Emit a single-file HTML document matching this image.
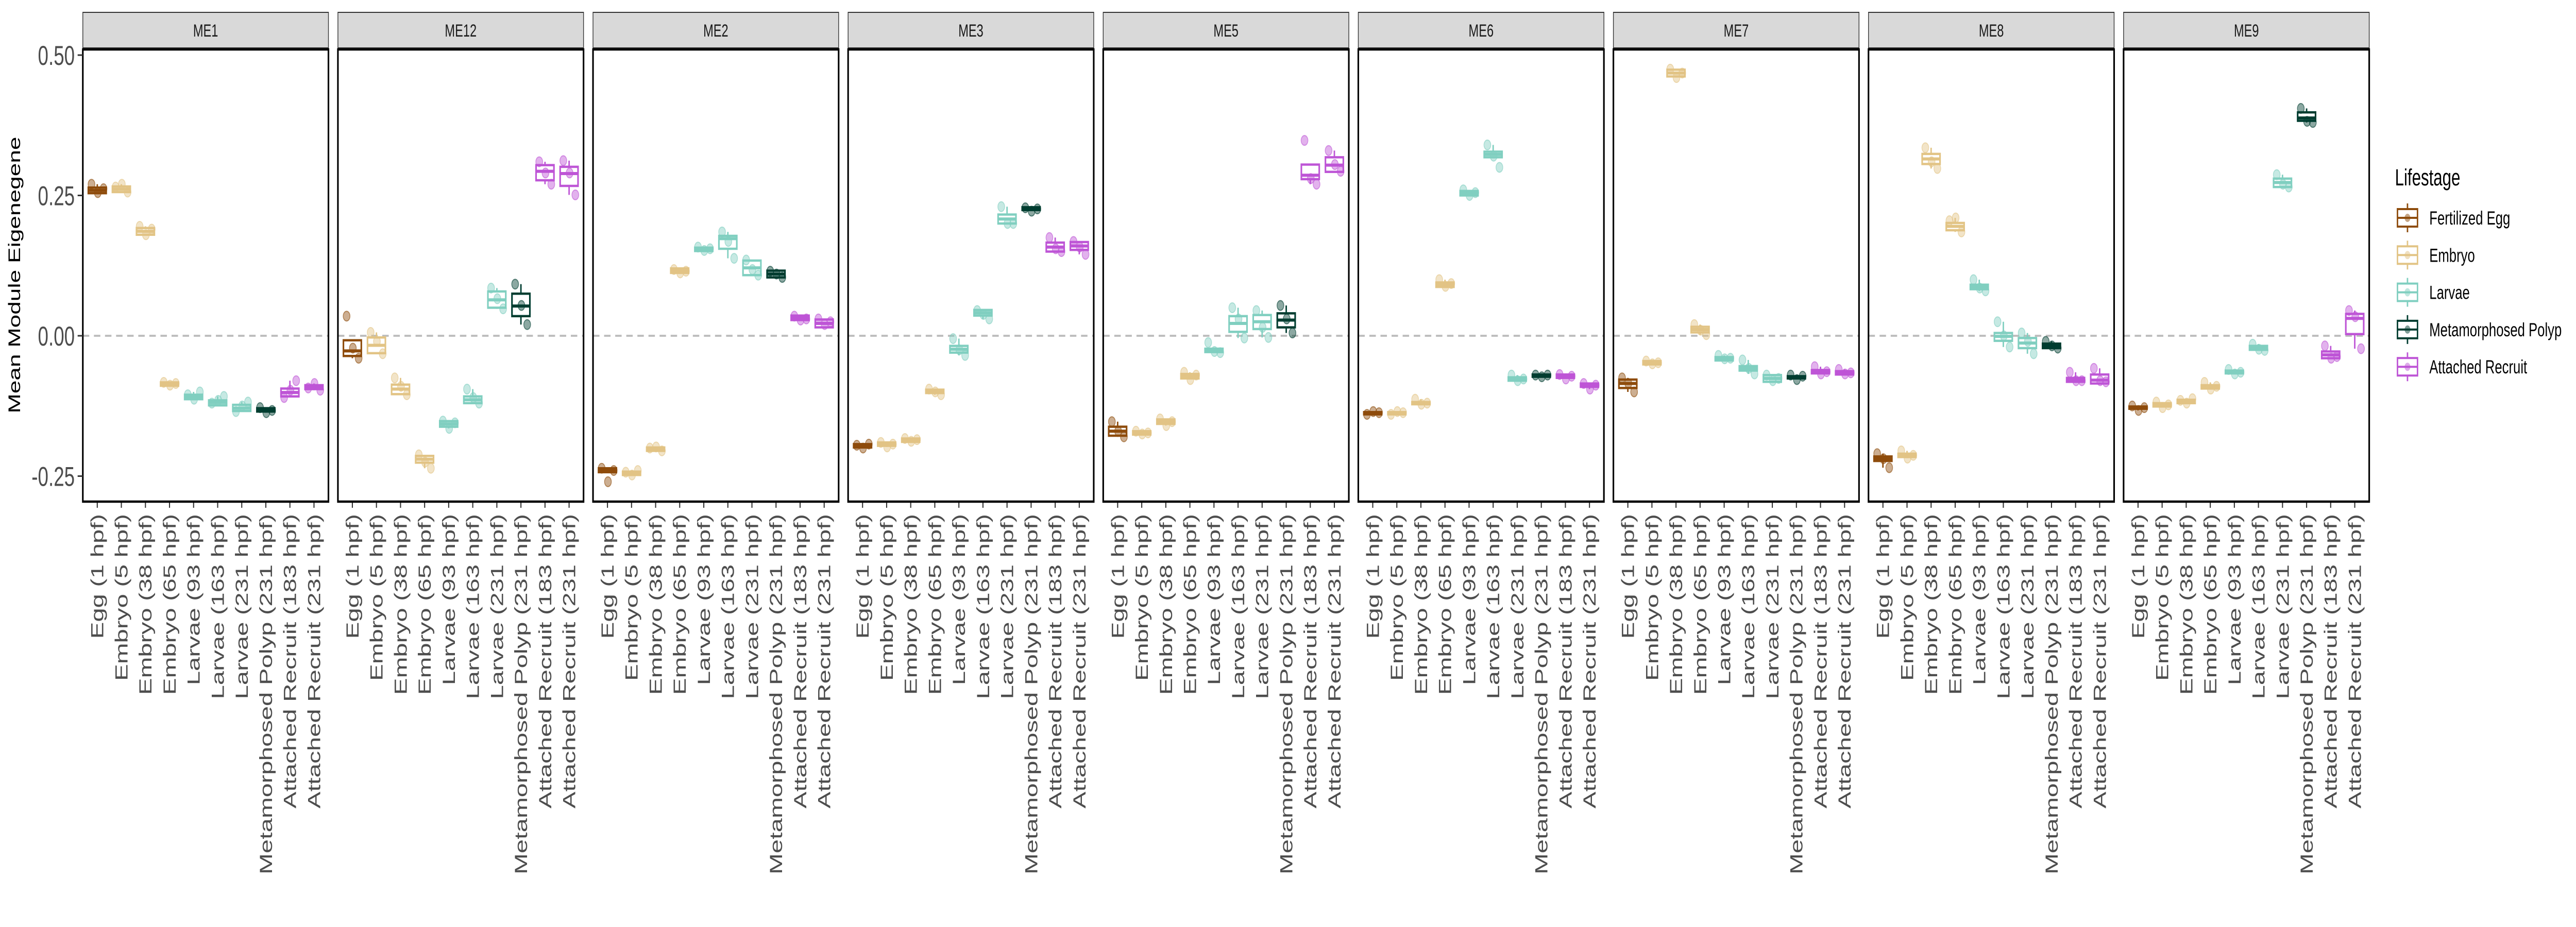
<!DOCTYPE html>
<html><head><meta charset="utf-8"><title>Mean Module Eigengene by Lifestage</title>
<style>
html,body{margin:0;padding:0;background:#fff;overflow:hidden;width:100%;height:100%;}
svg{display:block;font-family:"Liberation Sans",Arial,sans-serif;width:100vw;height:100vh;}
</style></head>
<body>
<svg id="chart" xmlns="http://www.w3.org/2000/svg" viewBox="0 0 7200 1800" preserveAspectRatio="none">
<rect x="0" y="0" width="7200" height="1800" fill="#fff"/>
<text x="0" y="0" transform="translate(56,534) rotate(-90)" text-anchor="middle" font-size="46" fill="#000">Mean Module Eigenegene</text>
<g id="panels"></g>
<g id="legend">
<text x="6694" y="360" font-size="45" fill="#000">Lifestage</text>
</g>
</svg>
<script>
const panelNames = ["ME1","ME12","ME2","ME3","ME5","ME6","ME7","ME8","ME9"];
const categories = ["Egg (1 hpf)","Embryo (5 hpf)","Embryo (38 hpf)","Embryo (65 hpf)","Larvae (93 hpf)","Larvae (163 hpf)","Larvae (231 hpf)","Metamorphosed Polyp (231 hpf)","Attached Recruit (183 hpf)","Attached Recruit (231 hpf)"];
const categoryStage = [0,1,1,1,2,2,2,3,4,4];
const stageNames = ["Fertilized Egg","Embryo","Larvae","Metamorphosed Polyp","Attached Recruit"];
const yTicks = [0.50,0.25,0.00,-0.25];
const yTickLabels = ["0.50","0.25","0.00","-0.25"];

const medians = [
 [0.259,0.261,0.186,-0.086,-0.109,-0.119,-0.129,-0.132,-0.101,-0.092],
 [-0.027,-0.017,-0.095,-0.220,-0.157,-0.114,0.064,0.053,0.293,0.289],
 [-0.240,-0.245,-0.202,0.116,0.154,0.173,0.121,0.110,0.032,0.022],
 [-0.196,-0.193,-0.186,-0.099,-0.024,0.041,0.208,0.226,0.158,0.160],
 [-0.170,-0.173,-0.153,-0.072,-0.026,0.022,0.025,0.028,0.286,0.304],
 [-0.138,-0.138,-0.120,0.091,0.254,0.323,-0.077,-0.071,-0.072,-0.088],
 [-0.085,-0.048,0.468,0.011,-0.041,-0.058,-0.076,-0.074,-0.064,-0.066],
 [-0.219,-0.213,0.315,0.195,0.087,-0.001,-0.013,-0.018,-0.079,-0.079],
 [-0.128,-0.123,-0.117,-0.092,-0.065,-0.022,0.273,0.388,-0.034,0.031]
];
const q1s = [
 [0.254,0.256,0.180,-0.089,-0.113,-0.124,-0.134,-0.135,-0.108,-0.095],
 [-0.036,-0.031,-0.104,-0.226,-0.162,-0.120,0.050,0.035,0.277,0.267],
 [-0.243,-0.248,-0.205,0.112,0.151,0.155,0.108,0.104,0.028,0.015],
 [-0.199,-0.196,-0.189,-0.102,-0.030,0.036,0.200,0.224,0.150,0.153],
 [-0.178,-0.176,-0.157,-0.076,-0.029,0.007,0.012,0.015,0.279,0.292],
 [-0.140,-0.140,-0.122,0.087,0.250,0.318,-0.080,-0.073,-0.075,-0.091],
 [-0.093,-0.051,0.462,0.006,-0.044,-0.062,-0.082,-0.076,-0.067,-0.069],
 [-0.223,-0.216,0.306,0.188,0.083,-0.009,-0.022,-0.022,-0.082,-0.085],
 [-0.130,-0.126,-0.120,-0.094,-0.067,-0.025,0.265,0.383,-0.040,0.003]
];
const q3s = [
 [0.264,0.266,0.192,-0.083,-0.105,-0.115,-0.123,-0.129,-0.094,-0.088],
 [-0.008,-0.003,-0.087,-0.214,-0.152,-0.108,0.079,0.075,0.304,0.301],
 [-0.236,-0.242,-0.199,0.120,0.157,0.178,0.134,0.116,0.036,0.029],
 [-0.193,-0.190,-0.183,-0.096,-0.018,0.046,0.216,0.229,0.166,0.167],
 [-0.162,-0.170,-0.149,-0.068,-0.023,0.035,0.037,0.040,0.305,0.318],
 [-0.136,-0.136,-0.118,0.095,0.258,0.328,-0.074,-0.069,-0.069,-0.085],
 [-0.078,-0.045,0.474,0.016,-0.038,-0.054,-0.070,-0.072,-0.061,-0.063],
 [-0.215,-0.210,0.324,0.201,0.091,0.005,-0.004,-0.014,-0.075,-0.069],
 [-0.126,-0.120,-0.114,-0.088,-0.062,-0.018,0.280,0.398,-0.028,0.039]
];
const samplePoints = [
 [[0.27,0.255,0.262],[0.265,0.27,0.256],[0.195,0.18,0.19],[-0.083,-0.088,-0.085],[-0.105,-0.113,-0.1],[-0.12,-0.115,-0.108],[-0.135,-0.125,-0.118],[-0.128,-0.137,-0.133],[-0.11,-0.097,-0.08],[-0.093,-0.085,-0.097]],
 [[0.035,-0.022,-0.04],[0.006,-0.01,-0.032],[-0.075,-0.09,-0.105],[-0.212,-0.225,-0.236],[-0.152,-0.165,-0.155],[-0.095,-0.11,-0.12],[0.085,0.066,0.048],[0.092,0.054,0.020],[0.31,0.29,0.27],[0.312,0.29,0.251]],
 [[-0.236,-0.26,-0.24],[-0.243,-0.248,-0.24],[-0.2,-0.198,-0.205],[0.118,0.112,0.115],[0.158,0.152,0.155],[0.185,0.168,0.138],[0.135,0.118,0.108],[0.115,0.11,0.104],[0.035,0.028,0.03],[0.03,0.02,0.025]],
 [[-0.195,-0.2,-0.193],[-0.19,-0.198,-0.193],[-0.183,-0.188,-0.185],[-0.095,-0.1,-0.105],[-0.005,-0.025,-0.035],[0.045,0.038,0.03],[0.23,0.2,0.2],[0.228,0.222,0.226],[0.175,0.155,0.15],[0.168,0.158,0.145]],
 [[-0.153,-0.17,-0.18],[-0.17,-0.175,-0.173],[-0.148,-0.16,-0.153],[-0.065,-0.078,-0.07],[-0.012,-0.028,-0.03],[0.05,0.03,-0.004],[0.045,0.015,-0.003],[0.054,0.03,0.005],[0.348,0.28,0.27],[0.33,0.305,0.293]],
 [[-0.14,-0.135,-0.137],[-0.14,-0.135,-0.137],[-0.113,-0.122,-0.12],[0.1,0.088,0.093],[0.26,0.25,0.255],[0.34,0.32,0.3],[-0.07,-0.08,-0.077],[-0.07,-0.073,-0.07],[-0.069,-0.077,-0.072],[-0.085,-0.095,-0.088]],
 [[-0.075,-0.085,-0.1],[-0.045,-0.05,-0.048],[0.475,0.46,0.468],[0.02,0.01,0.002],[-0.035,-0.041,-0.04],[-0.043,-0.058,-0.068],[-0.07,-0.08,-0.076],[-0.07,-0.078,-0.072],[-0.055,-0.068,-0.064],[-0.06,-0.068,-0.066]],
 [[-0.21,-0.219,-0.235],[-0.205,-0.218,-0.213],[0.335,0.31,0.298],[0.205,0.21,0.185],[0.1,0.085,0.08],[0.025,0.0,-0.02],[0.005,-0.01,-0.032],[-0.01,-0.018,-0.022],[-0.065,-0.08,-0.08],[-0.058,-0.08,-0.082]],
 [[-0.125,-0.133,-0.128],[-0.118,-0.128,-0.123],[-0.115,-0.12,-0.112],[-0.083,-0.095,-0.09],[-0.06,-0.068,-0.065],[-0.015,-0.024,-0.026],[0.287,0.27,0.265],[0.405,0.382,0.38],[-0.018,-0.04,-0.037],[0.045,0.034,-0.023]]
];

const stageColors = ["#8E4C0C","#E2C485","#80CFC0","#003D30","#BE55D6"];
const NS = "http://www.w3.org/2000/svg";
const P0 = 231.5, PW = 686.5, PSTEP = 713, PTOP = 96, PBOT = 974, STRIPTOP = 24;
const Y0 = 652, YSCALE = 1090;
function yScale(v){ return Y0 - v*YSCALE; }
function xScale(p,j){ return P0 + p*PSTEP + (j+0.6)*PW/10.2; }
function mk(tag, attrs, parent){ const e=document.createElementNS(NS,tag); for(const k in attrs) e.setAttribute(k,attrs[k]); parent.appendChild(e); return e; }

const root = document.getElementById("panels");
panelNames.forEach((name,p)=>{
  const g = mk("g",{},root);
  
  
  const L = P0 + p*PSTEP;
  const strip = mk("rect",{x:L,y:STRIPTOP,width:PW,height:PTOP-STRIPTOP-3,fill:"#d9d9d9",stroke:"#333","stroke-width":2},g);
  
  
  const st = mk("text",{x:L+PW/2,y:71,"text-anchor":"middle","font-size":34,fill:"#1a1a1a"},g);
  st.textContent = name;
  
  
  const zl = mk("line",{x1:L,x2:L+PW,y1:yScale(0),y2:yScale(0),stroke:"#bebebe","stroke-width":4,"stroke-dasharray":"18 13"},g);
  
  
  categories.forEach((c,j)=>{
    const x = xScale(p,j);
    const col = stageColors[categoryStage[j]];
    const pts = samplePoints[p][j];
    const lo = q1s[p][j], hi = q3s[p][j], iqr = hi-lo;
    const inr = pts.filter(v=>v>=lo-1.5*iqr && v<=hi+1.5*iqr);
    const wl = Math.min(lo, ...inr), wh = Math.max(hi, ...inr);
    const bg = mk("g",{},g);
    
    
    mk("line",{x1:x,x2:x,y1:yScale(wh),y2:yScale(hi),stroke:col,"stroke-width":4},bg);
    mk("line",{x1:x,x2:x,y1:yScale(lo),y2:yScale(wl),stroke:col,"stroke-width":4},bg);
    const bh = Math.max(yScale(lo)-yScale(hi), 1);
    mk("rect",{x:x-25,y:yScale(hi),width:50,height:bh,fill:"#fff",stroke:col,"stroke-width":4.5},bg);
    mk("line",{x1:x-25,x2:x+25,y1:yScale(medians[p][j]),y2:yScale(medians[p][j]),stroke:col,"stroke-width":6},bg);
    const offs = [-0.24,0.02,0.26];
    pts.forEach((v,k)=>{
      const c2 = mk("circle",{cx:x+offs[k]*PW/10.2,cy:yScale(v),r:9.5,fill:col,"fill-opacity":0.45,stroke:col,"stroke-opacity":0.6,"stroke-width":2},g);
      
      
    });
    mk("line",{x1:x,x2:x,y1:PBOT,y2:PBOT+12,stroke:"#333","stroke-width":3},g);
    const t = mk("text",{x:0,y:0,transform:`translate(${x},998) rotate(-90)`,"text-anchor":"end",dy:"0.35em","font-size":49,fill:"#4d4d4d"},g);
    t.textContent = c;
    
    
  });
  const border = mk("rect",{x:L,y:PTOP,width:PW,height:PBOT-PTOP,fill:"none",stroke:"#000","stroke-width":4.5},g);
  
  
});

const ya = mk("g",{},root);


yTicks.forEach((v,i)=>{
  mk("line",{x1:217,x2:P0,y1:yScale(v),y2:yScale(v),stroke:"#333","stroke-width":3},ya);
  const t = mk("text",{x:209,y:yScale(v),dy:"0.36em","text-anchor":"end","font-size":53,fill:"#4d4d4d"},ya);
  t.textContent = yTickLabels[i];
  
  
});

const lg = document.getElementById("legend");
stageNames.forEach((s,i)=>{
  const cy = 423 + i*72.3, col = stageColors[i];
  const e = mk("g",{},lg);
  
  
  mk("line",{x1:6729,x2:6729,y1:cy-28,y2:cy+28,stroke:col,"stroke-width":4},e);
  mk("rect",{x:6701,y:cy-17,width:56,height:34,fill:"#fff",stroke:col,"stroke-width":4},e);
  mk("line",{x1:6701,x2:6757,y1:cy,y2:cy,stroke:col,"stroke-width":4},e);
  mk("circle",{cx:6729,cy:cy,r:8,fill:col,"fill-opacity":0.5},e);
  const t = mk("text",{x:6790,y:cy+13,"font-size":37,fill:"#000"},e);
  t.textContent = s;
});
</script>
</body></html>
